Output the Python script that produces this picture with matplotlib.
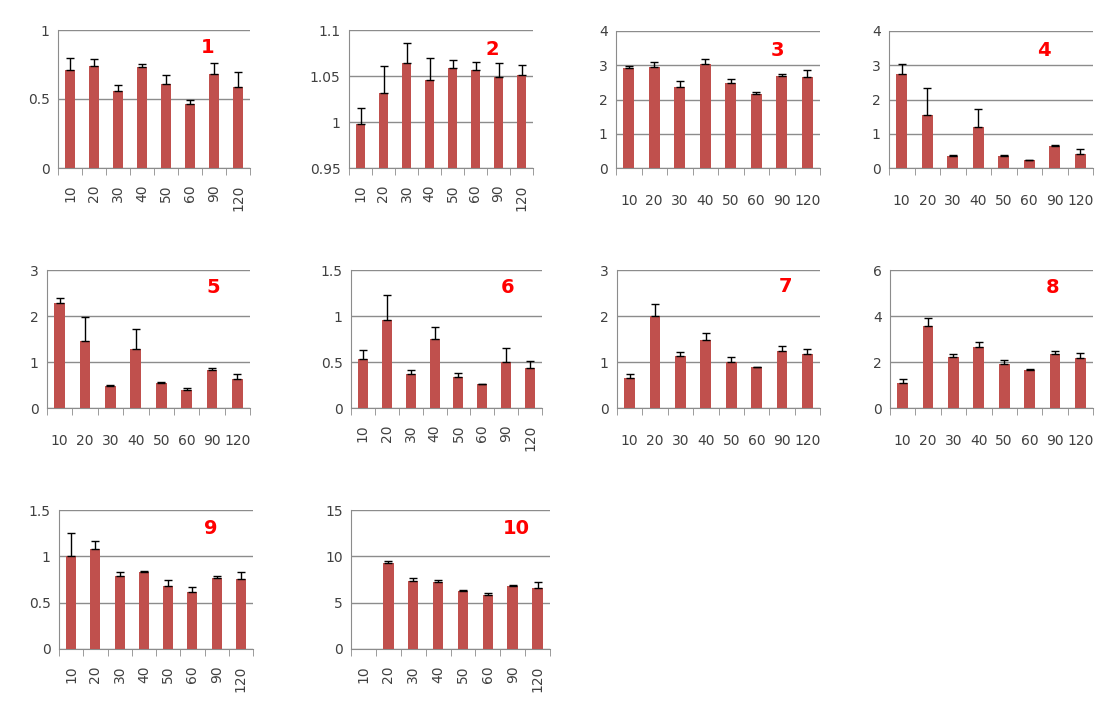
import numpy as np
import matplotlib.pyplot as plt
from matplotlib.ticker import FixedLocator

categories = ["10", "20", "30", "40", "50", "60", "90", "120"]

# means and upper error-bar tops per panel
mean_1 = [0.71, 0.742, 0.559, 0.733, 0.61, 0.463, 0.684, 0.586]
top_1 = [0.80, 0.788, 0.598, 0.752, 0.672, 0.494, 0.759, 0.694]
mean_2 = [0.9977, 1.0313, 1.0638, 1.0454, 1.0588, 1.0563, 1.0494, 1.0512]
top_2 = [1.015, 1.061, 1.0862, 1.070, 1.0671, 1.0649, 1.0638, 1.0624]
mean_3 = [2.91, 2.95, 2.375, 3.05, 2.47, 2.17, 2.68, 2.65]
top_3 = [2.98, 3.10, 2.54, 3.17, 2.60, 2.23, 2.73, 2.86]
mean_4 = [2.74, 1.56, 0.36, 1.20, 0.36, 0.23, 0.63, 0.42]
top_4 = [3.04, 2.33, 0.38, 1.72, 0.38, 0.24, 0.68, 0.545]
mean_5 = [2.28, 1.45, 0.47, 1.28, 0.55, 0.385, 0.83, 0.62]
top_5 = [2.40, 1.98, 0.51, 1.71, 0.56, 0.44, 0.86, 0.74]
mean_6 = [0.528, 0.954, 0.365, 0.745, 0.34, 0.257, 0.499, 0.43]
top_6 = [0.629, 1.229, 0.412, 0.878, 0.376, 0.26, 0.647, 0.51]
mean_7 = [0.646, 2.005, 1.12, 1.48, 0.99, 0.886, 1.25, 1.17]
top_7 = [0.74, 2.27, 1.22, 1.62, 1.11, 0.89, 1.34, 1.29]
mean_8 = [1.09, 3.56, 2.21, 2.66, 1.90, 1.67, 2.35, 2.17]
top_8 = [1.24, 3.90, 2.34, 2.85, 2.09, 1.68, 2.49, 2.38]
mean_9 = [1.00, 1.08, 0.789, 0.836, 0.682, 0.617, 0.768, 0.757]
top_9 = [1.256, 1.166, 0.829, 0.843, 0.743, 0.664, 0.786, 0.829]
mean_10 = [np.nan, 9.29, 7.32, 7.25, 6.21, 5.81, 6.75, 6.53]
top_10 = [np.nan, 9.54, 7.64, 7.46, 6.39, 6.03, 6.89, 7.18]

panel_names = ["1", "2", "3", "4", "5", "6", "7", "8", "9", "10"]
means = [mean_1, mean_2, mean_3, mean_4, mean_5, mean_6, mean_7, mean_8, mean_9, mean_10]
tops = [top_1, top_2, top_3, top_4, top_5, top_6, top_7, top_8, top_9, top_10]
y_ticks = [[0, 0.5, 1], [0.95, 1, 1.05, 1.1], [0, 1, 2, 3, 4], [0, 1, 2, 3, 4],
           [0, 1, 2, 3], [0, 0.5, 1, 1.5], [0, 1, 2, 3], [0, 2, 4, 6],
           [0, 0.5, 1, 1.5], [0, 5, 10, 15]]
y_labels = [["0", "0.5", "1"], ["0.95", "1", "1.05", "1.1"], None, None, None,
            ["0", "0.5", "1", "1.5"], None, None, ["0", "0.5", "1", "1.5"], None]
rotated = [True, True, False, False, False, True, False, False, True, True]

# axes boxes in pixels: left, right, top, bottom
boxes = [(58, 250, 30, 168), (349, 533, 30, 168), (616, 820, 31, 168), (889, 1093, 31, 168),
         (47, 250, 270, 408), (351, 542, 270, 408), (617, 820, 270, 408), (890, 1093, 270, 408),
         (59, 253, 510, 649), (351, 550, 510, 649)]
label_pos = [(0.78, 0.87), (0.78, 0.86), (0.79, 0.86), (0.76, 0.86), (0.82, 0.87),
             (0.82, 0.87), (0.83, 0.88), (0.80, 0.87), (0.78, 0.87), (0.83, 0.87)]

W, H = 1111, 709
bar_color = "#C0504D"
grid_color = "#8C8C8C"
text_color = "#404040"

fig = plt.figure(figsize=(W / 100, H / 100), dpi=100)
x = np.arange(len(categories))

for i in range(10):
    l, r, t, b = boxes[i]
    ax = fig.add_axes([l / W, 1 - b / H, (r - l) / W, (b - t) / H])
    m = np.array(means[i], dtype=float)
    tp = np.array(tops[i], dtype=float)
    lo = y_ticks[i][0]
    err = np.vstack([np.zeros_like(m), tp - m])
    ax.bar(x, m - lo, bottom=lo, width=0.42, color=bar_color, zorder=3)
    ax.errorbar(x, m, yerr=err, fmt="none", ecolor="black", elinewidth=1,
                capsize=3, capthick=1, zorder=4)
    ax.set_ylim(y_ticks[i][0], y_ticks[i][-1])
    ax.set_xlim(-0.5, len(categories) - 0.5)
    ax.set_yticks(y_ticks[i])
    if y_labels[i] is not None:
        ax.set_yticklabels(y_labels[i])
    ax.yaxis.grid(True, color=grid_color, linewidth=1, zorder=0)
    ax.set_axisbelow(True)
    for s in ["top", "right"]:
        ax.spines[s].set_visible(False)
    ax.spines["left"].set_color(grid_color)
    ax.spines["bottom"].set_color(grid_color)
    ax.set_xticks(x)
    ax.xaxis.set_minor_locator(FixedLocator(np.arange(-0.5, len(categories), 1)))
    ax.tick_params(axis="x", which="minor", length=5, color=grid_color, direction="out")
    ax.tick_params(axis="y", length=0, pad=6, labelsize=10, labelcolor=text_color)
    if rotated[i]:
        ax.set_xticklabels(categories, rotation=90, va="top", ha="center")
        ax.tick_params(axis="x", which="major", length=0, pad=12, labelsize=10,
                       labelcolor=text_color)
    else:
        ax.set_xticklabels(categories)
        ax.tick_params(axis="x", which="major", length=0, pad=19, labelsize=10,
                       labelcolor=text_color)
    lx, ly = label_pos[i]
    ax.text(lx, ly, panel_names[i], transform=ax.transAxes, color="red",
            fontsize=14, fontweight="bold", ha="center", va="center")

fig.savefig("out.png", dpi=100, facecolor="white")
